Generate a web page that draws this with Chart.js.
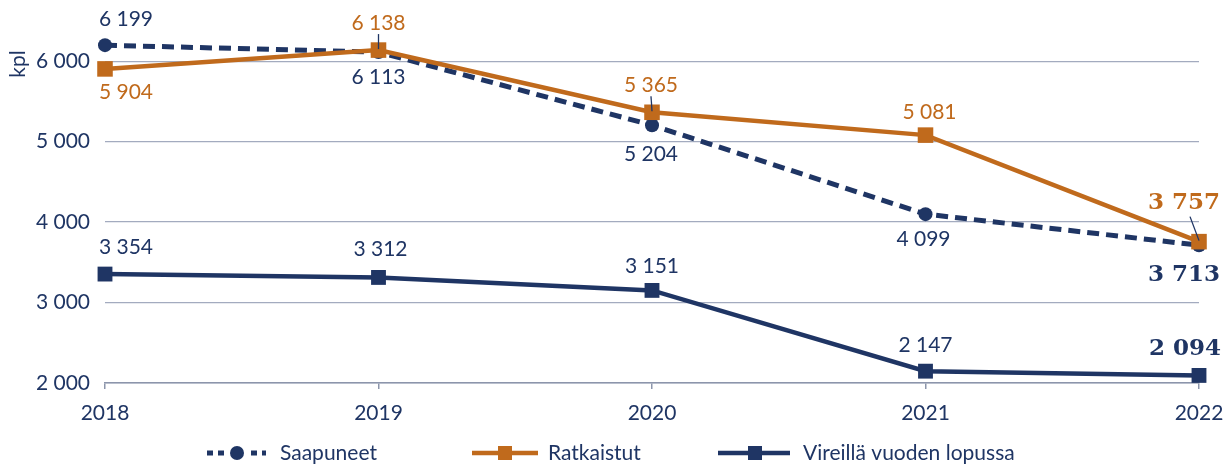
<!DOCTYPE html>
<html>
<head>
<meta charset="utf-8">
<script src="https://cdn.jsdelivr.net/npm/chart.js@4.4.0/dist/chart.umd.min.js"></script>
<style>
html,body{margin:0;padding:0;background:#fff;}
#wrap{width:1226px;height:464px;}
</style>
</head>
<body>
<div id="wrap"><canvas id="c" width="1226" height="464"></canvas></div>
<script>
const years = ['2018','2019','2020','2021','2022'];
const saapuneet = [6199, 6113, 5204, 4099, 3713];
const ratkaistut = [5904, 6138, 5365, 5081, 3757];
const vireilla = [3354, 3312, 3151, 2147, 2094];
const yTicks = [2000, 3000, 4000, 5000, 6000];
const yTickLabels = ['2 000', '3 000', '4 000', '5 000', '6 000'];
const seriesNames = ['Saapuneet', 'Ratkaistut', 'Vireillä vuoden lopussa'];

const NAVY = '#1f3564';
const ORANGE = '#c06a1c';
const FONT = 'Lato, "Open Sans", sans-serif';
const BOLDFONT = '"DejaVu Serif", serif';
const FS = 21;

function fmt(v){ const s = String(v); return s.length > 3 ? s.slice(0, s.length-3) + ' ' + s.slice(-3) : s; }

// label placement: [dx, dy, bold, leader] per series per point
const labelPos = [
  [[21,-26,0,0],[0,25,0,0],[-1,29,0,0],[-2,25,0,0],[-15,30,1,0]],
  [[21,23,0,0],[0,-27,0,1],[-1,-27,0,1],[4,-23,0,0],[-15,-39,1,1]],
  [[21,-27,0,0],[2,-28,0,0],[0,-24,0,0],[0,-26,0,0],[-14,-26,1,0]]
];

const labelsPlugin = {
  id: 'labels',
  afterDatasetsDraw(chart){
    const ctx = chart.ctx;
    ctx.save();
    ctx.textAlign = 'center';
    ctx.textBaseline = 'middle';
    [0,1,2].forEach(di => {
      const meta = chart.getDatasetMeta(di);
      const color = di === 1 ? ORANGE : NAVY;
      meta.data.forEach((pt, i) => {
        const [dx, dy, bold, leader] = labelPos[di][i];
        const lx = pt.x + dx, ly = pt.y + dy;
        const v = chart.data.datasets[di].data[i];
        if (leader) {
          ctx.strokeStyle = NAVY;
          ctx.lineWidth = 1.3;
          ctx.beginPath();
          ctx.moveTo(lx + (bold ? 6 : 0), ly + (bold ? 14 : 11));
          ctx.lineTo(pt.x, pt.y - 1);
          ctx.stroke();
        }
        ctx.fillStyle = color;
        ctx.font = bold ? 'bold 23px ' + BOLDFONT : FS + 'px ' + FONT;
        ctx.fillText(fmt(v), lx, ly);
      });
    });
    ctx.restore();
  },
  afterDraw(chart){
    const ctx = chart.ctx;
    ctx.save();
    // y axis title
    ctx.translate(18.5, 64);
    ctx.rotate(-Math.PI/2);
    ctx.fillStyle = NAVY;
    ctx.font = FS + 'px ' + FONT;
    ctx.textAlign = 'center';
    ctx.textBaseline = 'middle';
    ctx.fillText('kpl', 0, 0);
    ctx.restore();

    // legend
    ctx.save();
    const y = 453;
    ctx.textBaseline = 'middle';
    ctx.textAlign = 'left';
    ctx.font = FS + 'px ' + FONT;
    // Saapuneet
    ctx.strokeStyle = NAVY; ctx.lineWidth = 5; ctx.setLineDash([6,5]);
    ctx.beginPath(); ctx.moveTo(207, y); ctx.lineTo(266, y); ctx.stroke();
    ctx.setLineDash([]);
    ctx.fillStyle = '#fff'; ctx.fillRect(228, y-8, 18, 16);
    ctx.fillStyle = NAVY; ctx.beginPath(); ctx.arc(237, y, 7, 0, Math.PI*2); ctx.fill();
    ctx.fillText(seriesNames[0], 280, y);
    // Ratkaistut
    ctx.strokeStyle = ORANGE; ctx.lineWidth = 4.5;
    ctx.beginPath(); ctx.moveTo(472, y); ctx.lineTo(538, y); ctx.stroke();
    ctx.fillStyle = ORANGE; ctx.fillRect(498, y-7, 14, 14);
    ctx.fillStyle = NAVY; ctx.fillText(seriesNames[1], 548, y);
    // Vireillä
    ctx.strokeStyle = NAVY; ctx.lineWidth = 4.5;
    ctx.beginPath(); ctx.moveTo(718, y); ctx.lineTo(790, y); ctx.stroke();
    ctx.fillStyle = NAVY; ctx.fillRect(748, y-7, 14, 14);
    ctx.fillText(seriesNames[2], 803, y);
    ctx.restore();
  }
};

new Chart(document.getElementById('c'), {
  type: 'line',
  data: {
    labels: years,
    datasets: [
      { label: seriesNames[0], data: saapuneet, borderColor: NAVY, backgroundColor: NAVY,
        borderWidth: 5, borderDash: [12, 7], pointStyle: 'circle', pointRadius: 7,
        pointBorderWidth: 0, pointHoverRadius: 7, tension: 0, order: 1, clip: false },
      { label: seriesNames[1], data: ratkaistut, borderColor: ORANGE, backgroundColor: ORANGE,
        borderWidth: 4.5, pointStyle: 'rect', pointRadius: 11, pointBorderWidth: 0,
        pointHoverRadius: 11, tension: 0, order: 0, clip: false },
      { label: seriesNames[2], data: vireilla, borderColor: NAVY, backgroundColor: NAVY,
        borderWidth: 4.5, pointStyle: 'rect', pointRadius: 10.5, pointBorderWidth: 0,
        pointHoverRadius: 10.5, tension: 0, order: 2, clip: false }
    ]
  },
  options: {
    responsive: false,
    animation: false,
    events: [],
    layout: { padding: { top: 29, right: 27, bottom: 35, left: 0 } },
    plugins: { legend: { display: false }, tooltip: { enabled: false } },
    scales: {
      x: {
        offset: false,
        border: { display: true, color: '#8c95ab', width: 1.5 },
        grid: { drawOnChartArea: false, drawTicks: true, tickLength: 6, color: '#8c95ab', lineWidth: 1.5 },
        ticks: { color: NAVY, font: { family: FONT, size: FS }, padding: 12, maxRotation: 0 },
        afterFit(s){ s.height = 46; s.paddingLeft = 0; s.paddingRight = 0; }
      },
      y: {
        min: 2000, max: 6400,
        border: { display: false },
        grid: { drawTicks: false, color: '#a3abbf', lineWidth: 1.2 },
        ticks: { color: NAVY, font: { family: FONT, size: FS }, padding: 15,
          callback: (v) => { const k = yTicks.indexOf(v); return k >= 0 ? yTickLabels[k] : ''; } },
        afterBuildTicks(s){ s.ticks = yTicks.map(v => ({ value: v })); },
        afterFit(s){ s.width = 105; s.paddingTop = 0; s.paddingBottom = 0; }
      }
    }
  },
  plugins: [labelsPlugin]
});
</script>
</body>
</html>
